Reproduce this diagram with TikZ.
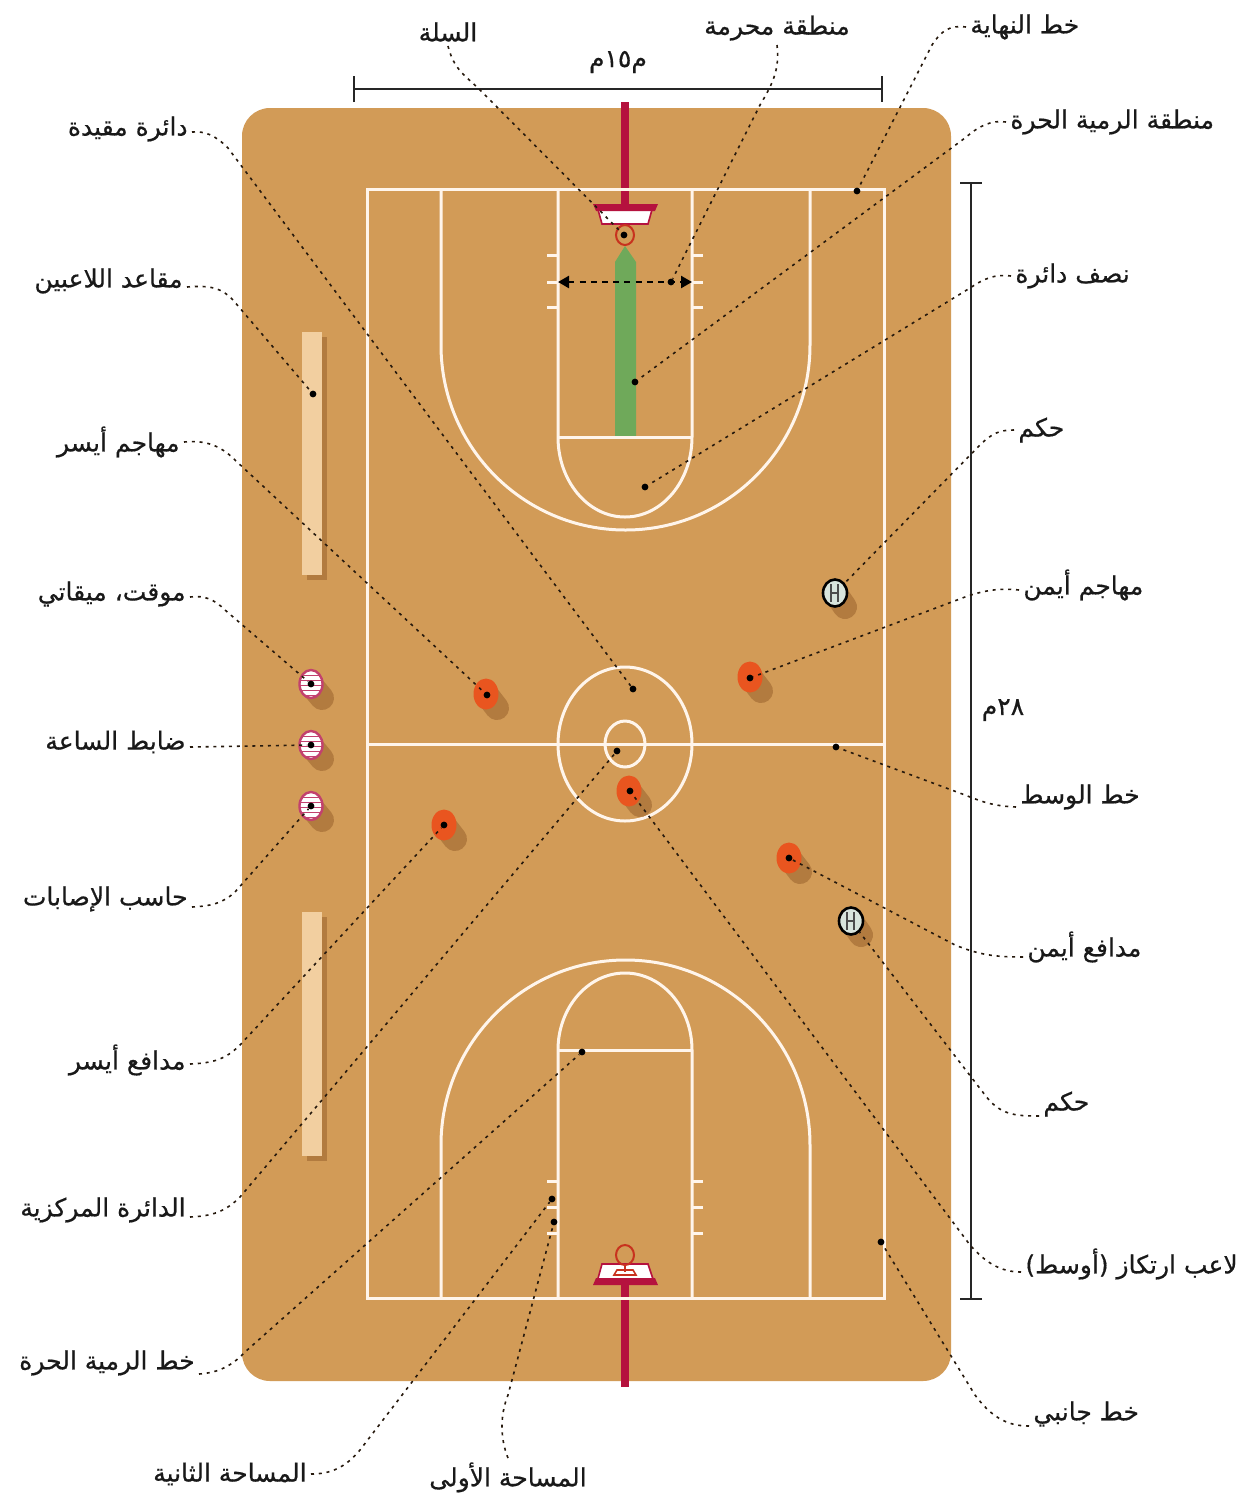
\documentclass[tikz,border=0pt]{standalone}
\usepackage{fontspec}
\usetikzlibrary{arrows.meta,shapes.geometric}
\TeXXeTstate=1
\newfontfamily\arabicfont[Script=Arabic,FakeBold=0.5]{DejaVu Sans}
\newcommand{\artext}[1]{{\arabicfont\fontsize{12.5pt}{14pt}\selectfont\beginR #1\endR}}
\definecolor{floorbrown}{HTML}{D29B57}
\definecolor{benchtan}{HTML}{F2CFA0}
\definecolor{castbrown}{HTML}{B27B3F}
\definecolor{postred}{HTML}{B5123E}
\definecolor{ringred}{HTML}{C8321E}
\definecolor{keygreen}{HTML}{6FA95A}
\definecolor{playerorange}{HTML}{E9551F}
\definecolor{tablepink}{HTML}{C2416E}
\definecolor{refgrey}{HTML}{D8E4DC}
\tikzset{
  courtline/.style={draw=white!92!orange,line width=1.5pt},
  cast/.style={draw=castbrown,line width=12pt,line cap=round},
  bench/.style={fill=benchtan},
  pin/.style={circle,fill=black,inner sep=0pt,minimum size=3.4pt},
  lbl/.style={inner sep=2pt,text=black!90,yshift=-1pt},
  leader/.style={draw=black!80!brown,line width=0.8pt,dash pattern=on 1.5pt off 2.4pt},
  dimline/.style={draw=black!85,line width=1.2pt},
  player/.style={ellipse,fill=playerorange,inner sep=0pt,minimum width=12.5pt,minimum height=15.5pt},
  official/.style={ellipse,draw=tablepink,line width=1.2pt,fill=white,inner sep=0pt,minimum width=11.5pt,minimum height=14pt},
  referee/.style={ellipse,draw=black,line width=1.3pt,fill=refgrey,inner sep=0pt,minimum width=12pt,minimum height=13.5pt}
}
\begin{document}
\begin{tikzpicture}[x=0.5pt,y=-0.5pt]
\useasboundingbox (0,0) rectangle (1259,1495);
\fill[white] (0,0) rectangle (1259,1495);
\fill[floorbrown,rounded corners=14pt] (242,108) rectangle (951,1381);

\fill[postred] (621,102) rectangle (629,205);
\fill[postred] (621,1285) rectangle (629,1387);

\fill[keygreen] (615,437) -- (615,262) -- (625,246) -- (636,262) -- (636,437) -- cycle;

\draw[courtline] (367,189) rectangle (884,1298);
\draw[courtline] (367,744) -- (884,744);
\draw[courtline] (625,744) ellipse (67 and 77);
\draw[courtline] (625,744) ellipse (20 and 23);
\draw[courtline] (441,189) -- (441,345) arc[start angle=180,end angle=0,x radius=184.5,y radius=185] -- (810,189);
\draw[courtline] (441,1298) -- (441,1145) arc[start angle=180,end angle=360,x radius=184.5,y radius=185] -- (810,1298);
\draw[courtline] (558,189) -- (558,437) arc[start angle=180,end angle=0,x radius=67,y radius=80] -- (692,437) -- (692,189);
\draw[courtline] (558,437) -- (692,437);
\draw[courtline] (558,1298) -- (558,1050) arc[start angle=180,end angle=360,x radius=67,y radius=77] -- (692,1050) -- (692,1298);
\draw[courtline] (558,1050) -- (692,1050);
\foreach \y in {255,282,307,1181,1207,1233} {
  \draw[courtline] (547,\y) -- (558,\y);
  \draw[courtline] (692,\y) -- (703,\y);
}

\fill[castbrown] (307,337) rectangle (327,580);
\fill[castbrown] (307,917) rectangle (327,1161);
\fill[bench] (302,332) rectangle (322,575);
\fill[bench] (302,912) rectangle (322,1156);

\filldraw[fill=white,draw=postred,line width=0.8pt] (597,206) -- (653,206) -- (648,224) -- (602,224) -- cycle;
\fill[postred] (593,204) -- (658,204) -- (655,211) -- (596,211) -- cycle;
\draw[ringred,line width=1pt] (625,235) ellipse (9 and 10);
\filldraw[fill=white,draw=postred,line width=0.8pt] (602,1264) -- (648,1264) -- (654,1282) -- (597,1282) -- cycle;
\fill[postred] (596,1278) -- (655,1278) -- (658,1285) -- (593,1285) -- cycle;
\draw[ringred,line width=1pt] (625,1255) ellipse (9 and 10);
\draw[ringred,line width=0.8pt] (625,1265) -- (625,1272);
\draw[ringred,line width=0.8pt] (617,1270) -- (633,1270) -- (636,1275) -- (614,1275) -- cycle;

\coordinate (keyleft) at (558,282);
\coordinate (keyright) at (692,282);
\draw[black,line width=1.2pt,dash pattern=on 3pt off 2.6pt,{Triangle[length=5.5pt,width=6pt]}-{Triangle[length=5.5pt,width=6pt]}] (keyleft) -- (keyright);

\coordinate (widthleft) at (353,89);
\coordinate (widthright) at (883,89);
\draw[dimline,{Bar[width=13pt]}-{Bar[width=13pt]}] (widthleft) -- (widthright);
\coordinate (lengthtop) at (971,182);
\coordinate (lengthbottom) at (971,1300);
\draw[dimline,{Bar[width=11pt]}-{Bar[width=11pt]}] (lengthtop) -- (lengthbottom);
\node[lbl] (widthtext) at (618,60) {\artext{م١٥م}};
\node[lbl] (lengthtext) at (1003,708) {\artext{٢٨م}};

\foreach \name/\x/\y in {leftfwd/486/694,rightfwd/750/677,centre/629/791,leftbck/444/825,rightbck/789/858} {
  \draw[cast] (\x+1,\y+1) -- (\x+11,\y+14);
  \node[player] (\name) at (\x,\y) {};
}
\foreach \name/\y in {timer/684,clock/745,scorer/806} {
  \draw[cast] (312,\y+2) -- (322,\y+14);
  \node[official] (\name) at (311,\y) {};
  \begin{scope}
    \clip (311,\y) ellipse (11 and 14);
    \foreach \d in {-9,-4,1,6,11}
      \draw[tablepink,line width=0.4pt] (298,\y+\d) -- (324,\y+\d);
  \end{scope}
}
\foreach \name/\x/\y in {refa/835/593,refb/851/921} {
  \draw[cast] (\x+1,\y+1) -- (\x+10,\y+14);
  \node[referee] (\name) at (\x,\y) {};
  \draw[black!70,line width=0.6pt] (\x-4,\y-9) -- (\x-4,\y+9);
  \draw[black!70,line width=0.6pt] (\x+3,\y-9) -- (\x+3,\y+9);
  \draw[black!70,line width=0.6pt] (\x-4,\y) -- (\x+3,\y);
}

\node[pin] (basketpin) at (624,235) {};
\node[pin] (restrictedpin) at (671,282) {};
\node[pin] (endlinepin) at (857,191) {};
\node[pin] (lanepin) at (635,382) {};
\node[pin] (semipin) at (645,487) {};
\node[pin] (rightfwdpin) at (750,678) {};
\node[pin] (midlinepin) at (836,747) {};
\node[pin] (rightbckpin) at (789,858) {};
\node[pin] (centrepin) at (630,791) {};
\node[pin] (sidelinepin) at (881,1242) {};
\node[pin] (ringpin) at (633,689) {};
\node[pin] (benchpin) at (313,394) {};
\node[pin] (leftfwdpin) at (487,695) {};
\node[pin] (timerpin) at (311,684) {};
\node[pin] (clockpin) at (311,745) {};
\node[pin] (scorerpin) at (311,806) {};
\node[pin] (leftbckpin) at (444,825) {};
\node[pin] (circlepin) at (617,751) {};
\node[pin] (fthrowpin) at (582,1052) {};
\node[pin] (secondpin) at (552,1199) {};
\node[pin] (firstpin) at (554,1222) {};

\node[lbl,anchor=south] (basket) at (448,44) {\artext{السلة}};
\node[lbl,anchor=south] (restricted) at (777,43) {\artext{منطقة محرمة}};
\node[lbl,anchor=west] (endline) at (966,25) {\artext{خط النهاية}};
\node[lbl,anchor=west] (lane) at (1006,120) {\artext{منطقة الرمية الحرة}};
\node[lbl,anchor=west] (semi) at (1011,274) {\artext{نصف دائرة}};
\node[lbl,anchor=west] (refatext) at (1014,428) {\artext{حكم}};
\node[lbl,anchor=west] (rightfwdtext) at (1019,583) {\artext{مهاجم أيمن}};
\node[lbl,anchor=west] (midline) at (1016,795) {\artext{خط الوسط}};
\node[lbl,anchor=west] (rightbcktext) at (1023,945) {\artext{مدافع أيمن}};
\node[lbl,anchor=west] (refbtext) at (1039,1102) {\artext{حكم}};
\node[lbl,anchor=west] (pivot) at (1021,1262) {\artext{لاعب ارتكاز (أوسط)}};
\node[lbl,anchor=west] (sideline) at (1029,1412) {\artext{خط جانبي}};
\node[lbl,anchor=east] (ring) at (192,127) {\artext{دائرة مقيدة}};
\node[lbl,anchor=east] (benches) at (187,279) {\artext{مقاعد اللاعبين}};
\node[lbl,anchor=east] (leftfwdtext) at (184,440) {\artext{مهاجم أيسر}};
\node[lbl,anchor=east] (timertext) at (190,592) {\artext{موقت، ميقاتي}};
\node[lbl,anchor=east] (clocktext) at (190,740) {\artext{ضابط الساعة}};
\node[lbl,anchor=east] (scorertext) at (192,897) {\artext{حاسب الإصابات}};
\node[lbl,anchor=east] (leftbcktext) at (190,1058) {\artext{مدافع أيسر}};
\node[lbl,anchor=east] (circletext) at (190,1208) {\artext{الدائرة المركزية}};
\node[lbl,anchor=east] (fthrow) at (199,1361) {\artext{خط الرمية الحرة}};
\node[lbl,anchor=east] (second) at (311,1472) {\artext{المساحة الثانية}};
\node[lbl,anchor=north] (first) at (508,1456) {\artext{المساحة الأولى}};

\draw[leader] (basket.south) .. controls (454,70) and (465,75) .. (480,90) -- (basketpin);
\draw[leader] (restricted.south) .. controls (780,70) and (772,85) .. (760,105) -- (restrictedpin);
\draw[leader] (endline.west) .. controls (950,25) and (942,30) .. (932,45) -- (endlinepin);
\draw[leader] (lane.west) .. controls (992,120) and (980,125) .. (965,138) -- (lanepin);
\draw[leader] (semi.west) .. controls (995,274) and (985,278) .. (970,288) -- (semipin);
\draw[leader] (refatext.west) .. controls (1000,430) and (992,433) .. (980,445) -- (refa);
\draw[leader] ([yshift=-2.5pt]rightfwdtext.west) .. controls (1000,588) and (985,590) .. (965,597) -- (rightfwdpin);
\draw[leader] ([yshift=-5pt]midline.west) .. controls (995,806) and (985,803) .. (965,795) -- (midlinepin);
\draw[leader] ([yshift=-5pt]rightbcktext.west) .. controls (995,957) and (980,955) .. (955,945) -- (rightbckpin);
\draw[leader] ([yshift=-6pt]refbtext.west) .. controls (1015,1116) and (1000,1115) .. (985,1095) -- (refb);
\draw[leader] ([yshift=-4pt]pivot.west) .. controls (1000,1272) and (985,1262) .. (970,1245) -- (centrepin);
\draw[leader] ([yshift=-6pt]sideline.west) .. controls (1005,1426) and (990,1415) .. (975,1395) -- (sidelinepin);
\draw[leader] ([yshift=-1.5pt]ring.east) .. controls (205,131) and (215,135) .. (228,148) -- (ringpin);
\draw[leader] ([yshift=-3pt]benches.east) .. controls (210,285) and (222,288) .. (233,300) -- (benchpin);
\draw[leader] (leftfwdtext.east) .. controls (205,440) and (220,445) .. (235,460) -- (leftfwdpin);
\draw[leader] ([yshift=-1.5pt]timertext.east) .. controls (205,595) and (215,600) .. (225,610) -- (timerpin);
\draw[leader] ([yshift=-2.5pt]clocktext.east) -- (clockpin);
\draw[leader] ([yshift=-4pt]scorertext.east) .. controls (210,906) and (222,904) .. (235,892) -- (scorerpin);
\draw[leader] ([yshift=-2pt]leftbcktext.east) .. controls (212,1063) and (225,1060) .. (240,1045) -- (leftbckpin);
\draw[leader] ([yshift=-3.5pt]circletext.east) .. controls (212,1216) and (225,1212) .. (240,1197) -- (circlepin);
\draw[leader] ([yshift=-5.5pt]fthrow.east) .. controls (215,1373) and (230,1368) .. (245,1352) -- (fthrowpin);
\draw[leader] (second.east) .. controls (330,1474) and (345,1468) .. (360,1450) -- (secondpin);
\draw[leader] (first.north) .. controls (500,1438) and (500,1415) .. (508,1395) -- (firstpin);
\end{tikzpicture}
\end{document}
